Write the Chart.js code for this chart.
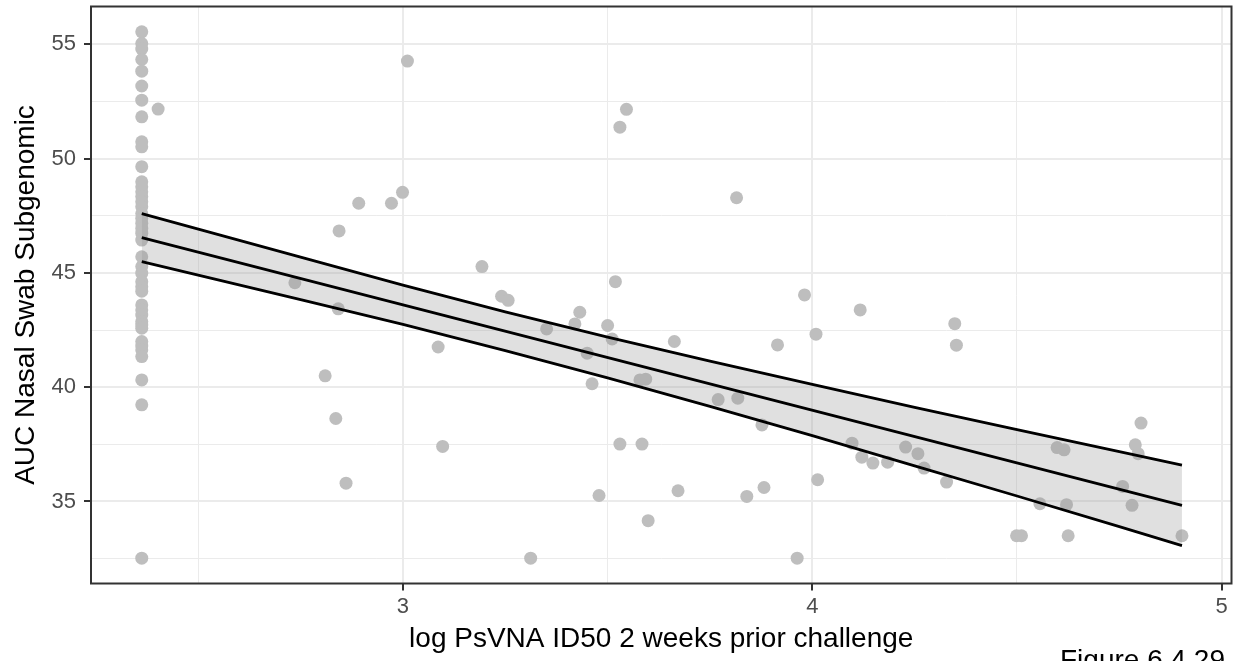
<!DOCTYPE html>
<html>
<head>
<meta charset="utf-8">
<script src="https://cdn.jsdelivr.net/npm/chart.js@4"></script>
<style>
  html, body { margin: 0; padding: 0; background: #fff; overflow: hidden; }
  #wrap { position: relative; width: 1238px; height: 661px; }
  #fig {
    position: absolute; left: 1060px; top: 646px;
    font: 28px/28px "Liberation Sans", Arial, sans-serif; color: #000;
    white-space: nowrap;
  }
</style>
</head>
<body>
<div id="wrap">
  <canvas id="chart" width="1238" height="661"></canvas>
  <div id="fig">Figure 6.4.29</div>
</div>
<script>
// scatter points
const pointX = [
  2.362, 2.362, 2.362, 2.362, 2.362, 2.362, 2.362, 2.362, 2.362, 2.362,
  2.362, 2.362, 2.362, 2.362, 2.362, 2.362, 2.362, 2.362, 2.362, 2.362,
  2.362, 2.362, 2.362, 2.362, 2.362, 2.362, 2.362, 2.362, 2.362, 2.362,
  2.362, 2.362, 2.362, 2.362, 2.362, 2.362, 2.362, 2.362, 2.362, 2.362,
  2.362, 2.362,
  2.402, 2.736, 2.844, 2.842, 2.810, 2.836, 2.861, 2.892, 2.972, 2.999,
  3.011, 3.086, 3.097, 3.193, 3.241, 3.257, 3.312, 3.351, 3.420, 3.432,
  3.450, 3.462, 3.479, 3.500, 3.511, 3.519, 3.530, 3.530, 3.546, 3.579,
  3.593, 3.584, 3.599, 3.663, 3.672, 3.770, 3.815, 3.818, 3.840, 3.877,
  3.882, 3.915, 3.963, 3.981, 4.009, 4.013, 4.097, 4.117, 4.121, 4.148,
  4.184, 4.228, 4.258, 4.273, 4.328, 4.348, 4.352, 4.499, 4.511, 4.556,
  4.598, 4.615, 4.621, 4.625, 4.758, 4.781, 4.789, 4.796, 4.803, 4.903
];
const pointY = [
  55.55, 55.04, 54.80, 54.34, 53.83, 53.18, 52.56, 51.83, 50.74, 50.52,
  49.65, 48.99, 48.77, 48.55, 48.34, 48.12, 47.90, 47.60, 47.39, 47.17,
  46.95, 46.74, 46.44, 45.71, 45.28, 44.99, 44.62, 44.40, 44.20, 43.60,
  43.38, 43.16, 42.87, 42.72, 42.58, 42.00, 41.80, 41.63, 41.34, 40.32,
  39.23, 32.52,
  52.17, 44.57, 46.84, 43.43, 40.50, 38.63, 35.80, 48.05, 48.05, 48.53,
  54.27, 41.76, 37.41, 45.28, 43.98, 43.80, 32.52, 42.55, 42.77, 43.28,
  41.49, 40.15, 35.26, 42.70, 42.11, 44.62, 51.38, 37.51, 52.16, 40.32,
  40.35, 37.51, 34.16, 42.00, 35.47, 39.46, 48.29, 39.52, 35.22, 38.35,
  35.61, 41.85, 32.52, 44.04, 42.32, 35.95, 37.55, 43.38, 36.94, 36.68,
  36.72, 37.38, 37.09, 36.46, 35.85, 42.78, 41.84, 33.50, 33.50, 34.90,
  37.36, 37.26, 34.86, 33.50, 35.66, 34.83, 37.48, 37.09, 38.43, 33.50
];

// fitted line and its confidence band
const fitX = [2.362, 4.903];
const fitY = [46.55, 34.83];
const bandX     = [2.362, 2.75,  3.0,   3.25,  3.5,   3.75,  4.0,   4.25,  4.5,   4.75,  4.903];
const bandUpper = [47.60, 45.69, 44.47, 43.30, 42.19, 41.14, 40.12, 39.12, 38.14, 37.18, 36.59];
const bandLower = [45.50, 43.83, 42.75, 41.60, 40.41, 39.16, 37.88, 36.56, 35.24, 33.90, 33.07];

// axes
const xGrid = [2.5, 3, 3.5, 4, 4.5, 5];
const xLabels = [3, 4, 5];
const yGrid = [32.5, 35, 37.5, 40, 42.5, 45, 47.5, 50, 52.5, 55];
const yLabels = [35, 40, 45, 50, 55];

const FONT = '"Liberation Sans", Arial, sans-serif';

const toXY = (xs, ys) => xs.map((x, i) => ({x: x, y: ys[i]}));

function gridOpts(majors) {
  const isMajor = c => c.tick && majors.includes(c.tick.value);
  return {
    color: c => '#ebebeb',
    lineWidth: c => isMajor(c) ? 2 : 1,
    tickColor: c => isMajor(c) ? '#333333' : 'rgba(0,0,0,0)',
    tickLength: 7,
    tickWidth: 2,
  };
}

// fixed axis boxes so the panel sits where the reference has it
function fixBox(size, horizontal) {
  return s => {
    if (horizontal) s.height = size; else s.width = size;
    s.paddingTop = 0; s.paddingBottom = 0;
    s.paddingLeft = 0; s.paddingRight = 0;
  };
}

const panelBorder = {
  id: 'panelBorder',
  afterDraw(chart) {
    const a = chart.chartArea;
    const ctx = chart.ctx;
    ctx.save();
    ctx.strokeStyle = '#333333';
    ctx.lineWidth = 2;
    ctx.strokeRect(a.left, a.top, a.right - a.left, a.bottom - a.top);
    ctx.restore();
  }
};

new Chart(document.getElementById('chart'), {
  type: 'scatter',
  data: {
    datasets: [
      {
        label: 'fit',
        data: toXY(fitX, fitY),
        showLine: true, borderColor: '#000', borderWidth: 2.8,
        pointRadius: 0, fill: false, order: 0,
      },
      {
        label: 'upper',
        data: toXY(bandX, bandUpper),
        showLine: true, borderColor: '#000', borderWidth: 2.8,
        pointRadius: 0, fill: false, order: 1,
      },
      {
        label: 'lower',
        data: toXY(bandX, bandLower),
        showLine: true, borderColor: '#000', borderWidth: 2.8,
        pointRadius: 0, fill: 1, backgroundColor: 'rgba(153,153,153,0.3)', order: 2,
      },
      {
        label: 'points',
        data: toXY(pointX, pointY),
        showLine: false, pointRadius: 6.5, pointHoverRadius: 6.5,
        backgroundColor: '#bebebe', borderWidth: 0, order: 3,
      }
    ]
  },
  options: {
    responsive: false,
    devicePixelRatio: 1,
    animation: false,
    layout: { padding: { top: 6, right: 6, left: 0, bottom: 0 } },
    plugins: { legend: { display: false }, tooltip: { enabled: false } },
    scales: {
      x: {
        type: 'linear', position: 'bottom',
        min: 2.238, max: 5.024,
        afterBuildTicks: s => { s.ticks = xGrid.map(v => ({value: v})); },
        afterFit: fixBox(77.5, true),
        border: { display: false },
        grid: gridOpts(xLabels),
        ticks: {
          autoSkip: false, maxRotation: 0, padding: 3,
          color: '#4d4d4d', font: { family: FONT, size: 22 },
          callback: v => xLabels.includes(v) ? String(v) : ''
        },
        title: {
          display: true, text: 'log PsVNA ID50 2 weeks prior challenge',
          color: '#000', font: { family: FONT, size: 28 },
          padding: { top: 0, bottom: 5 }
        }
      },
      y: {
        type: 'linear', position: 'left',
        min: 31.41, max: 56.66,
        afterBuildTicks: s => { s.ticks = yGrid.map(v => ({value: v})); },
        afterFit: fixBox(91, false),
        border: { display: false },
        grid: gridOpts(yLabels),
        ticks: {
          autoSkip: false, padding: 8,
          color: '#4d4d4d', font: { family: FONT, size: 22 },
          callback: v => yLabels.includes(v) ? String(v) : ''
        },
        title: {
          display: true, text: 'AUC Nasal Swab Subgenomic',
          color: '#000', font: { family: FONT, size: 28 },
          padding: { top: 9, bottom: 0 }
        }
      }
    }
  },
  plugins: [panelBorder]
});
</script>
</body>
</html>
